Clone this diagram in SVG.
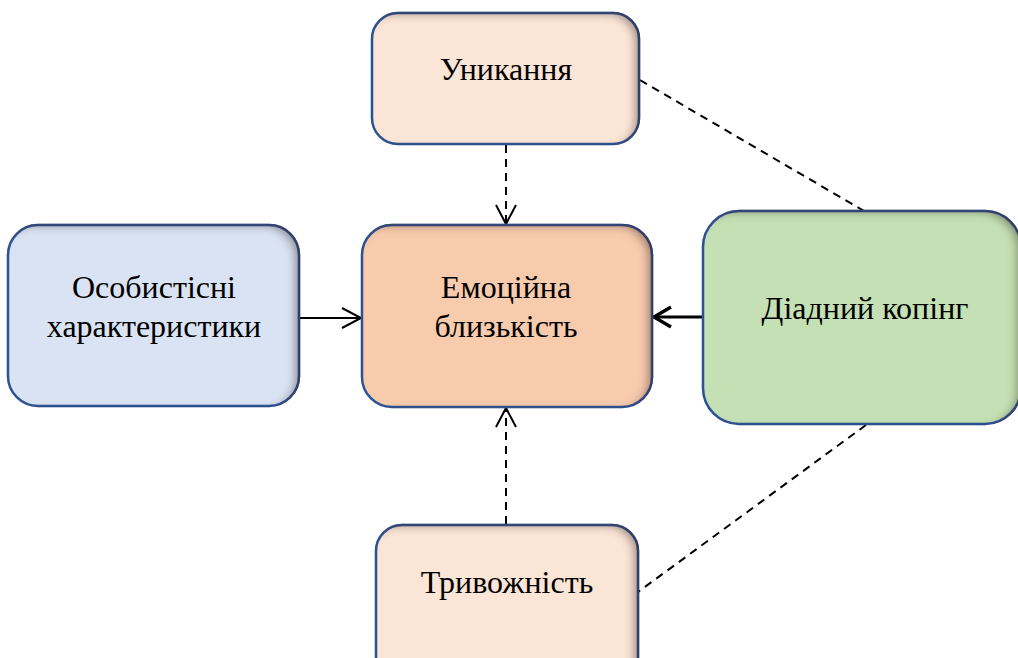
<svg xmlns="http://www.w3.org/2000/svg" width="1018" height="658" viewBox="0 0 1018 658">
<style>
.box{stroke:#2F5597;stroke-width:2.5}
.lbl{font-family:"Liberation Serif","Times New Roman",serif;font-size:32px;fill:#000;text-anchor:middle}
.dash{stroke:#000;stroke-width:2;fill:none;stroke-dasharray:8 6}
.solid{stroke:#000;stroke-width:2;fill:none}
.thick{stroke:#000;stroke-width:3.2;fill:none}
</style>
<defs>
<filter id="ish" x="-10%" y="-10%" width="120%" height="120%">
<feComponentTransfer in="SourceAlpha" result="inv"><feFuncA type="table" tableValues="1 0"/></feComponentTransfer>
<feOffset in="inv" dx="-6" dy="3" result="off"/>
<feGaussianBlur in="off" stdDeviation="4" result="blur"/>
<feComposite in="blur" in2="SourceAlpha" operator="in" result="cut"/>
<feFlood flood-color="#3a2a20" flood-opacity="0.65"/>
<feComposite in2="cut" operator="in" result="shadow"/>
<feMerge><feMergeNode in="SourceGraphic"/><feMergeNode in="shadow"/></feMerge>
</filter>
<marker id="arr" markerUnits="userSpaceOnUse" markerWidth="24" markerHeight="24" viewBox="-21 -12 24 24" refX="0" refY="0" orient="auto">
<path d="M-19,-10 L0,0 L-19,10" fill="none" stroke="#000" stroke-width="2"/>
</marker>
<marker id="arrT" markerUnits="userSpaceOnUse" markerWidth="26" markerHeight="26" viewBox="-22 -13 26 26" refX="0" refY="0" orient="auto">
<path d="M-18,-10 L-1,0 L-18,10" fill="none" stroke="#000" stroke-width="3.4"/>
</marker>
</defs>
<rect width="1018" height="658" fill="#fff"/>
<g id="connectors">
<line class="dash" x1="506" y1="145" x2="506" y2="224" marker-end="url(#arr)"/>
<line class="dash" x1="506" y1="524" x2="506" y2="408" marker-end="url(#arr)"/>
<line class="solid" x1="300" y1="318" x2="361" y2="318" marker-end="url(#arr)"/>
<line class="thick" x1="703" y1="317" x2="653" y2="317" marker-end="url(#arrT)"/>
<line class="dash" x1="640" y1="80" x2="864" y2="211"/>
<line class="dash" x1="866" y1="425" x2="638" y2="592"/>
</g>
<g id="node-avoid">
<rect class="box" x="372" y="13" width="267" height="131" rx="26" fill="#FBE5D6" filter="url(#ish)"/>
<text class="lbl" x="506" y="80">Уникання</text>
</g>
<g id="node-closeness">
<rect class="box" x="362" y="225" width="290" height="182" rx="30" fill="#F8CBAD" filter="url(#ish)"/>
<text class="lbl" x="506" y="298">Емоційна</text>
<text class="lbl" x="506" y="337">близькість</text>
</g>
<g id="node-personal">
<rect class="box" x="8" y="225" width="291" height="181" rx="30" fill="#DAE3F3" filter="url(#ish)"/>
<text class="lbl" x="154" y="298">Особистісні</text>
<text class="lbl" x="154" y="337">характеристики</text>
</g>
<g id="node-coping">
<rect class="box" x="703" y="211" width="318" height="213" rx="36" fill="#C5E0B4" filter="url(#ish)"/>
<text class="lbl" x="865" y="319">Діадний копінг</text>
</g>
<g id="node-anxiety">
<rect class="box" x="376" y="525" width="262" height="160" rx="26" fill="#FBE5D6" filter="url(#ish)"/>
<text class="lbl" x="507" y="593">Тривожність</text>
</g>
</svg>
